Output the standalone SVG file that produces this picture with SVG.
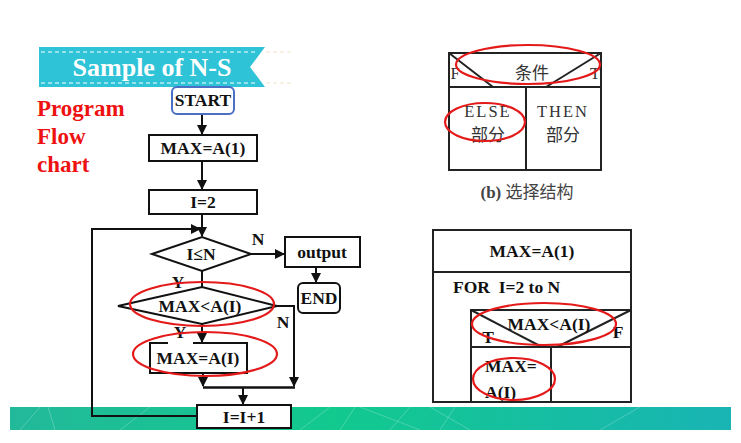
<svg xmlns="http://www.w3.org/2000/svg" width="741" height="443" viewBox="0 0 741 443">
<defs>
<style>
.fc{font-family:"Liberation Serif","Times New Roman",serif;font-weight:bold;font-size:17.5px;fill:#111;text-anchor:middle}
.st{text-anchor:start}
.box{fill:#fff;stroke:#111;stroke-width:2}
.ln{fill:none;stroke:#111;stroke-width:2}
.ns{fill:none;stroke:#222;stroke-width:2}
.red{fill:none;stroke:#e41a1a;stroke-width:2.2}
.cn{font-family:"Liberation Serif","Noto Sans CJK SC",serif;font-size:16.5px;fill:#333;text-anchor:middle}
.cjk{font-family:"Noto Sans CJK SC",sans-serif;font-size:17px;fill:#333;text-anchor:middle}
</style>
<marker id="ah" viewBox="0 0 10 10" refX="9" refY="5" markerWidth="5" markerHeight="5" orient="auto">
<path d="M0,0 L10,5 L0,10 z" fill="#111"/>
</marker>
<linearGradient id="band" x1="0" y1="0" x2="1" y2="0">
<stop offset="0" stop-color="#22b99a"/>
<stop offset="0.45" stop-color="#12c98e"/>
<stop offset="1" stop-color="#19b4b4"/>
</linearGradient>
</defs>
<rect width="741" height="443" fill="#fff"/>

<g id="band-bottom">
<rect x="10" y="407" width="721" height="23" fill="url(#band)"/>
<g stroke="#fff" stroke-opacity="0.22" stroke-width="1">
<line x1="20" y1="430" x2="40" y2="407"/><line x1="55" y1="430" x2="48" y2="407"/>
<line x1="120" y1="430" x2="150" y2="407"/><line x1="300" y1="430" x2="330" y2="407"/>
<line x1="340" y1="430" x2="355" y2="407"/><line x1="360" y1="407" x2="420" y2="430"/>
<line x1="390" y1="430" x2="410" y2="407"/><line x1="430" y1="407" x2="470" y2="430"/>
<line x1="440" y1="430" x2="455" y2="407"/><line x1="600" y1="430" x2="640" y2="407"/>
</g>
</g>

<g id="banner">
<polygon points="39,47 265,47 250,67 265,87 39,87" fill="#2ec3d6"/>
<line x1="41" y1="52" x2="258" y2="52" stroke="#fff" stroke-width="1" stroke-dasharray="4,3"/>
<line x1="41" y1="83" x2="258" y2="83" stroke="#fff" stroke-width="1" stroke-dasharray="4,3"/>
<line x1="266" y1="52" x2="292" y2="52" stroke="#f1e4c8" stroke-width="1" stroke-dasharray="4,3"/>
<line x1="266" y1="83" x2="292" y2="83" stroke="#f1e4c8" stroke-width="1" stroke-dasharray="4,3"/>
<text x="152" y="76" style="font-family:'Liberation Serif',serif;font-weight:bold;font-size:26px;fill:#fff" text-anchor="middle">Sample of N-S</text>
</g>

<g id="title-left" style="font-family:'Liberation Serif',serif;font-weight:bold;font-size:23px;fill:#ee1111">
<text x="37" y="116">Program</text>
<text x="37" y="144">Flow</text>
<text x="37" y="172">chart</text>
</g>

<g id="connectors">
<line class="ln" x1="202" y1="114" x2="202" y2="134" marker-end="url(#ah)"/>
<line class="ln" x1="202" y1="161" x2="202" y2="189" marker-end="url(#ah)"/>
<line class="ln" x1="202" y1="214" x2="202" y2="236" marker-end="url(#ah)"/>
<polyline class="ln" points="197,416 92,416 92,229 200,229" marker-end="url(#ah)"/>
<line class="ln" x1="251" y1="254" x2="284" y2="254" marker-end="url(#ah)"/>
<line class="ln" x1="316" y1="267" x2="316" y2="282" marker-end="url(#ah)"/>
<line class="ln" x1="202" y1="271" x2="202" y2="287"/>
<line class="ln" x1="202" y1="324" x2="202" y2="342" marker-end="url(#ah)"/>
<polyline class="ln" points="277,306 294,306 294,386" marker-end="url(#ah)"/>
<line class="ln" x1="203" y1="373" x2="203" y2="386" marker-end="url(#ah)"/>
<line x1="203" y1="387.5" x2="295" y2="387.5" stroke="#111" stroke-width="2.6"/>
<line class="ln" x1="243" y1="388" x2="243" y2="404" marker-end="url(#ah)"/>
</g>

<g id="node-start">
<rect x="172" y="87" width="62" height="27" rx="5" fill="#fff" stroke="#4a6fc4" stroke-width="2"/>
<text class="fc" x="203" y="106">START</text>
</g>
<g id="node-max1">
<rect class="box" x="149" y="135" width="108" height="26"/>
<text class="fc" x="203" y="154">MAX=A(1)</text>
</g>
<g id="node-i2">
<rect class="box" x="149" y="190" width="108" height="24"/>
<text class="fc" x="203" y="208">I=2</text>
</g>
<g id="node-cond1">
<polygon class="box" points="152,254 202,237 251,254 202,271"/>
<text class="fc" x="201" y="260">I≤N</text>
<text class="fc" x="258" y="245">N</text>
<text class="fc" x="178" y="288">Y</text>
</g>
<g id="node-output">
<rect class="box" x="285" y="237" width="75" height="30"/>
<text class="fc" x="322" y="258">output</text>
</g>
<g id="node-end">
<rect class="box" x="298" y="283" width="42" height="30" rx="5"/>
<text class="fc" x="319" y="304">END</text>
</g>
<g id="node-cond2">
<polygon class="box" points="118,306 202,287 277,306 202,324"/>
<text class="fc" x="200" y="312">MAX&lt;A(I)</text>
<text class="fc" x="283" y="328">N</text>
<text class="fc" x="180" y="338">Y</text>
</g>
<g id="node-assign">
<rect x="150" y="343" width="97" height="30" fill="#fff"/>
<path class="ln" d="M168,343 L150,343 L150,373 L247,373 L247,343 L193,343"/>
<text class="fc" x="198" y="364">MAX=A(I)</text>
</g>
<g id="node-inc">
<rect class="box" x="197" y="405" width="94" height="23"/>
<text class="fc" x="244" y="423">I=I+1</text>
</g>
<g id="hl-left">
<ellipse class="red" cx="202" cy="304" rx="72" ry="22"/>
<ellipse class="red" cx="205" cy="354" rx="72" ry="22"/>
</g>

<g id="ns-select">
<rect class="ns" x="449" y="53" width="152" height="117"/>
<line class="ns" x1="449" y1="87" x2="601" y2="87"/>
<line class="ns" x1="526" y1="87" x2="526" y2="170"/>
<line class="ns" x1="449" y1="53" x2="493" y2="87"/>
<line class="ns" x1="601" y1="53" x2="546" y2="87"/>
<text class="cn" x="455" y="79">F</text>
<text class="cn" x="595" y="79">T</text>
<text class="cjk" x="532" y="79">条件</text>
<text class="cn" x="488" y="117" letter-spacing="2">ELSE</text>
<text class="cjk" x="488" y="141">部分</text>
<text class="cn" x="563" y="117" letter-spacing="2">THEN</text>
<text class="cjk" x="563" y="141">部分</text>
<ellipse class="red" cx="528" cy="64.5" rx="72" ry="19.5"/>
<ellipse class="red" cx="485" cy="122" rx="40" ry="19"/>
<text x="527" y="198" style="font-family:'Liberation Serif','Noto Sans CJK SC',serif;font-size:17px;fill:#444" text-anchor="middle"><tspan font-weight="bold">(b)</tspan> 选择结构</text>
</g>

<g id="ns-program">
<rect class="ns" x="433" y="230" width="198" height="172"/>
<line class="ns" x1="433" y1="272" x2="631" y2="272"/>
<rect class="ns" x="471" y="310" width="160" height="92"/>
<line class="ns" x1="471" y1="347" x2="631" y2="347"/>
<line class="ns" x1="551" y1="347" x2="551" y2="402"/>
<line class="ns" x1="471" y1="310" x2="542" y2="347"/>
<line class="ns" x1="631" y1="310" x2="557" y2="347"/>
<text class="fc" x="532" y="257">MAX=A(1)</text>
<text class="fc st" x="453" y="293" xml:space="preserve">FOR  I=2 to N</text>
<text class="fc" x="549" y="330">MAX&lt;A(I)</text>
<text class="fc" x="488" y="343">T</text>
<text class="fc" x="618" y="338">F</text>
<text class="fc st" x="485" y="372">MAX=</text>
<text class="fc st" x="485" y="398">A(I)</text>
<ellipse class="red" cx="544" cy="324" rx="72" ry="21"/>
<ellipse class="red" cx="514" cy="379" rx="41" ry="21"/>
</g>
</svg>
